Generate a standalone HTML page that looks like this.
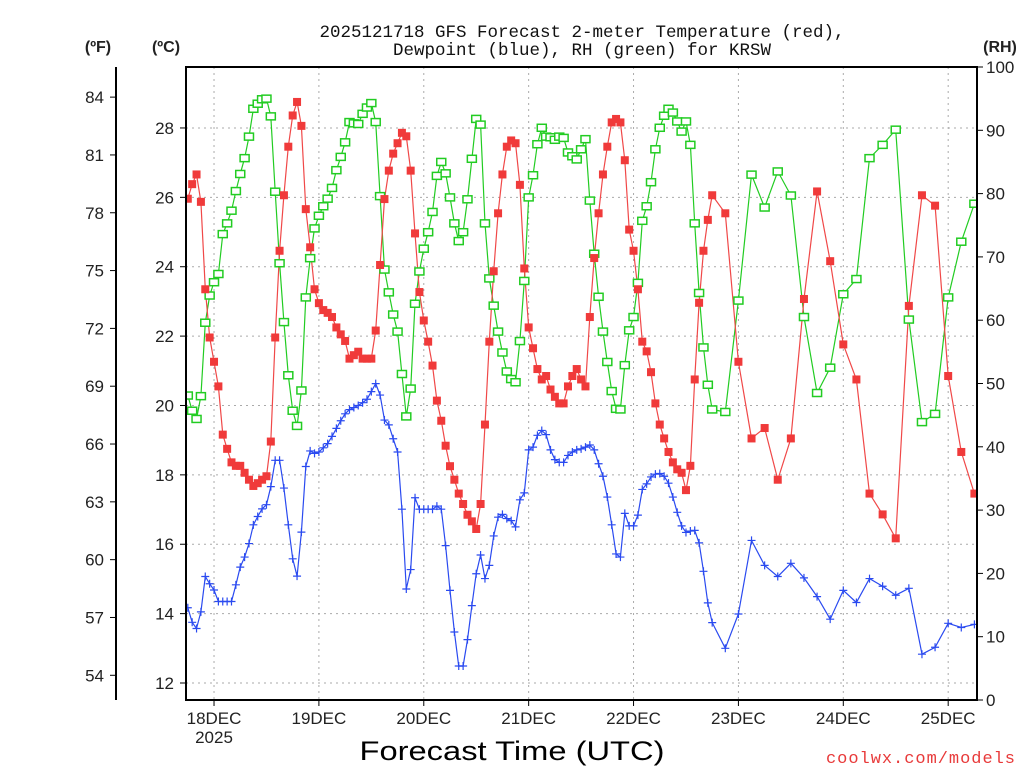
<!DOCTYPE html>
<html><head><meta charset="utf-8"><title>GFS Forecast KRSW</title>
<style>
html,body{margin:0;padding:0;background:#fff;}
svg{display:block;}
.t{font-family:"Liberation Sans",sans-serif;fill:#222;}
.m{font-family:"Liberation Mono",monospace;fill:#111;}
</style></head>
<body>
<svg id="chart" width="1024" height="768" viewBox="0 0 1024 768" xmlns="http://www.w3.org/2000/svg">
<defs><clipPath id="pc"><rect x="186" y="67" width="791" height="633"/></clipPath></defs>
<rect x="0" y="0" width="1024" height="768" fill="#fff"/>
<g id="grid"></g>
<g id="series" clip-path="url(#pc)"></g>
<g id="axes"></g>
<text class="m" x="582" y="37" font-size="17.5" text-anchor="middle">2025121718 GFS Forecast 2-meter Temperature (red),</text>
<text class="m" x="582" y="55" font-size="17.5" text-anchor="middle">Dewpoint (blue), RH (green) for KRSW</text>
<text class="t" x="98" y="52" font-size="16" font-weight="bold" text-anchor="middle">(ºF)</text>
<text class="t" x="166" y="52" font-size="16" font-weight="bold" text-anchor="middle">(ºC)</text>
<text class="t" x="1000" y="52" font-size="16" font-weight="bold" text-anchor="middle">(RH)</text>
<text class="t" x="512" y="760" font-size="27" textLength="305" lengthAdjust="spacingAndGlyphs" text-anchor="middle" style="fill:#000">Forecast Time (UTC)</text>
<text class="m" x="1015" y="763" font-size="17" text-anchor="end" textLength="189" style="fill:#e83a3a">coolwx.com/models</text>
</svg>
<script>
const tempC = [25.96,26.38,26.66,25.87,23.35,21.96,21.26,20.55,19.16,18.75,18.36,18.26,18.26,18.06,17.86,17.68,17.76,17.86,17.96,18.96,21.96,24.46,26.06,27.46,28.36,28.75,28.06,25.66,24.56,23.35,22.95,22.75,22.67,22.55,22.25,22.05,21.86,21.35,
21.45,21.55,21.35,21.35,21.35,22.16,24.05,25.95,26.77,27.26,27.56,27.86,27.76,26.77,24.96,23.27,22.45,21.84,21.15,20.14,19.56,18.84,18.25,17.86,17.46,17.16,16.85,16.66,16.44,17.16,19.45,21.84,23.87,25.54,26.66,27.46,
27.64,27.56,26.36,23.95,22.25,21.65,21.05,20.75,20.85,20.46,20.25,20.06,20.06,20.55,20.85,21.05,20.75,20.55,22.55,24.25,25.54,26.66,27.46,28.16,28.26,28.16,27.07,25.07,24.46,23.35,21.84,21.56,20.96,20.06,19.45,19.05,18.66,
18.36,18.16,18.06,17.56,18.26,20.75,22.96,24.46,25.35,26.06,
25.54,21.26,19.05,19.35,17.86,19.05,23.07,26.17,24.16,21.76,20.75,17.46,16.86,16.17,22.87,26.06,25.76,20.85,18.66,17.46];
const dewC = [14.17,13.75,13.57,14.05,15.07,14.86,14.68,14.35,14.35,14.35,14.35,14.83,15.34,15.63,16.02,16.56,16.80,17.02,17.14,17.66,18.42,18.42,17.62,16.56,15.58,15.08,16.35,18.24,18.69,18.62,18.66,18.78,18.90,19.11,19.34,19.56,19.76,19.88,
19.94,20.00,20.08,20.18,20.40,20.63,20.30,19.58,19.44,19.04,18.66,17.01,14.71,15.27,17.34,17.01,17.01,17.01,17.01,17.10,17.01,15.96,14.67,13.47,12.49,12.49,13.25,14.23,15.15,15.69,15.01,15.39,16.24,16.78,16.86,16.74,
16.68,16.50,17.28,17.48,18.72,18.80,19.14,19.28,19.16,18.72,18.44,18.36,18.36,18.56,18.66,18.72,18.75,18.80,18.86,18.72,18.32,17.96,17.36,16.56,15.72,15.63,16.89,16.53,16.53,16.84,17.58,17.74,17.94,18.02,18.04,17.96,17.76,
17.36,16.92,16.53,16.34,16.38,16.40,16.04,15.22,14.31,13.74,
13.0,13.99,16.11,15.39,15.07,15.45,15.03,14.49,13.84,14.67,14.32,15.01,14.79,14.53,14.73,12.83,13.03,13.72,13.60,13.69];
const rhPct = [48.1,45.7,44.4,48.0,59.6,63.9,66.0,67.3,73.6,75.3,77.3,80.4,83.1,85.6,89.0,93.4,94.2,94.9,95.0,92.2,80.3,69.0,59.7,51.3,45.7,43.3,48.9,63.6,69.8,74.5,76.5,78.0,79.2,80.9,83.7,85.8,88.1,91.3,
91.1,91.0,92.6,93.6,94.3,91.3,79.6,68.0,64.4,60.9,58.2,51.5,44.8,49.2,62.6,67.7,71.3,73.9,77.1,82.8,85.0,83.2,79.4,75.3,72.5,73.9,79.1,85.5,91.8,90.9,75.3,66.6,62.3,58.2,54.9,51.9,
50.7,50.2,56.7,66.2,79.4,82.9,87.8,90.4,89.0,88.9,88.5,89.0,88.8,86.5,85.9,85.4,87.0,88.6,78.9,70.5,63.7,58.2,53.4,48.8,46.0,45.9,52.9,58.4,60.5,65.9,75.7,78.0,81.8,87.0,90.4,92.3,93.4,
92.8,91.4,89.8,91.4,87.7,75.3,64.3,55.7,49.8,45.9,
45.5,63.1,83.0,77.8,83.5,79.7,60.5,48.5,52.5,64.1,66.5,85.6,87.7,90.1,60.1,43.9,45.2,63.6,72.4,78.4];
const fTicks = [54,57,60,63,66,69,72,75,78,81,84];
const cTicks = [12,14,16,18,20,22,24,26,28];
const rhTicks = [0,10,20,30,40,50,60,70,80,90,100];
const dayLabels = ["18DEC","19DEC","20DEC","21DEC","22DEC","23DEC","24DEC","25DEC"];
const dayHours = [6,30,54,78,102,126,150,174];

const NS="http://www.w3.org/2000/svg";
const hours=[];
for(let h=0;h<=120;h++)hours.push(h);
for(let h=123;h<=180;h+=3)hours.push(h);
const xH=h=>187.8+h*4.37;
const yC=c=>683-(c-12)*34.69;
const yF=f=>yC((f-32)*5/9);
const yR=r=>700-r*6.33;
function mk(tag,attrs,parent){const e=document.createElementNS(NS,tag);for(const k in attrs)e.setAttribute(k,attrs[k]);parent.appendChild(e);return e;}
const grid=document.getElementById('grid'),axes=document.getElementById('axes'),ser=document.getElementById('series');
cTicks.forEach(c=>{const l=mk('line',{x1:186,x2:977,y1:yC(c),y2:yC(c),stroke:'#aaa','stroke-width':1,'stroke-dasharray':'2,4'},grid);

});
dayHours.forEach(h=>{const l=mk('line',{x1:xH(h),x2:xH(h),y1:67,y2:700,stroke:'#aaa','stroke-width':1,'stroke-dasharray':'2,4'},grid);

});
const fr=mk('rect',{x:186,y:67,width:791,height:633,fill:'none',stroke:'#000','stroke-width':2},axes);


const fa=mk('line',{x1:116,x2:116,y1:67,y2:700,stroke:'#000','stroke-width':2},axes);


function txt(s,x,y,anchor,name){const t=mk('text',{x:x,y:y,'text-anchor':anchor,'font-size':17,class:'t'},axes);t.textContent=s;

return t;}
fTicks.forEach(f=>{const y=yF(f);mk('line',{x1:110,x2:116,y1:y,y2:y,stroke:'#000'},axes);txt(String(f),104,y+6,'end','fahrenheit-tick-label');});
cTicks.forEach(c=>{const y=yC(c);mk('line',{x1:180,x2:186,y1:y,y2:y,stroke:'#000'},axes);txt(String(c),174,y+6,'end','celsius-tick-label');});
rhTicks.forEach(r=>{const y=yR(r);mk('line',{x1:977,x2:983,y1:y,y2:y,stroke:'#000'},axes);txt(String(r),986,y+6,'start','rh-tick-label');});
dayLabels.forEach((d,i)=>{const x=xH(dayHours[i]);mk('line',{x1:x,x2:x,y1:700,y2:706,stroke:'#000'},axes);txt(d,x,724,'middle','date-tick-label');});
txt("2025",xH(dayHours[0]),743,'middle','year-label');
function line(vals,yf,color,name){const pts=vals.map((v,i)=>xH(hours[i]).toFixed(1)+','+yf(v).toFixed(1)).join(' ');
const p=mk('polyline',{points:pts,fill:'none',stroke:color,'stroke-width':1.2},ser);

}
line(rhPct,yR,'#22cc22','rh-line');
line(tempC,yC,'#f04848','temperature-line');
line(dewC,yC,'#2a4af0','dewpoint-line');
rhPct.forEach((v,i)=>{const x=xH(hours[i]),y=yR(v);const r=mk('rect',{x:x-4.5,y:y-3.5,width:9,height:7,fill:'#fff',stroke:'#22cc22','stroke-width':1.5},ser);

});
tempC.forEach((v,i)=>{const x=xH(hours[i]),y=yC(v);const r=mk('rect',{x:x-4,y:y-4,width:8,height:8,fill:'#f03a3a'},ser);

});
dewC.forEach((v,i)=>{const x=xH(hours[i]),y=yC(v);const p=mk('path',{d:`M${x-4},${y}h8M${x},${y-4}v8`,stroke:'#2a4af0','stroke-width':1.2,fill:'none'},ser);

});
</script>
</body></html>
